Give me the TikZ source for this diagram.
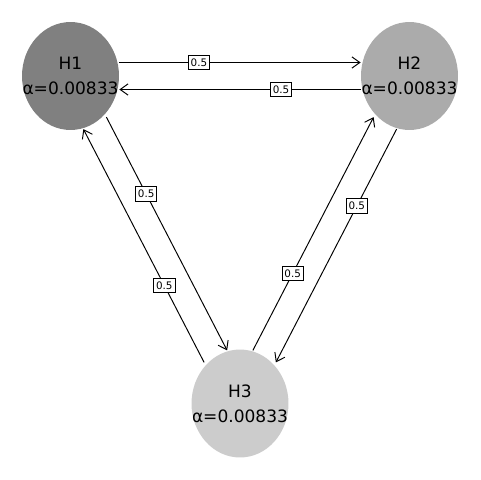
\documentclass[tikz,border=0pt]{standalone}
\usepackage{fontspec}
\setmainfont{DejaVu Sans}
\usetikzlibrary{shapes.geometric}
\usetikzlibrary{arrows.meta}

\newcommand{\nowidth}[1]{\makebox[0pt]{#1}}

\tikzset{
  state/.style={ellipse, minimum width=1.94cm, minimum height=2.16cm, inner sep=0pt, align=center, font=\fontsize{9.7}{14}\selectfont},
  weight/.style={draw, fill=white, line width=0.5pt, inner xsep=1.4pt, inner ysep=1.9pt, font=\fontsize{5.9}{6}\selectfont},
  link/.style={line width=0.55pt, -{Straight Barb[length=4.5pt,width=6.4pt]}}
}

\begin{document}
\begin{tikzpicture}[x=0.02cm, y=-0.02cm]

\useasboundingbox (0,0) rectangle (480,480);

\node[state, fill=black!50] (H1) at (70.5,76) {\nowidth{H1}\\\nowidth{α=0.00833}};
\node[state, fill=black!33] (H2) at (409.5,76) {\nowidth{H2}\\\nowidth{α=0.00833}};
\node[state, fill=black!20] (H3) at (240,403.5) {\nowidth{H3}\\\nowidth{α=0.00833}};

%every edge sits a little to its left, so both directions show
\foreach \a/\b/\dx/\dy in {H1/H2/0/-13.5, H2/H1/0/13.5, H1/H3/11.5/-6, H3/H1/-11.5/6, H2/H3/11.5/6, H3/H2/-11.5/-6}
\draw[link, transform canvas={shift={(\dx,\dy)}}] (\a) -- node[weight, pos=0.33] {0.5} (\b);

\end{tikzpicture}
\end{document}
